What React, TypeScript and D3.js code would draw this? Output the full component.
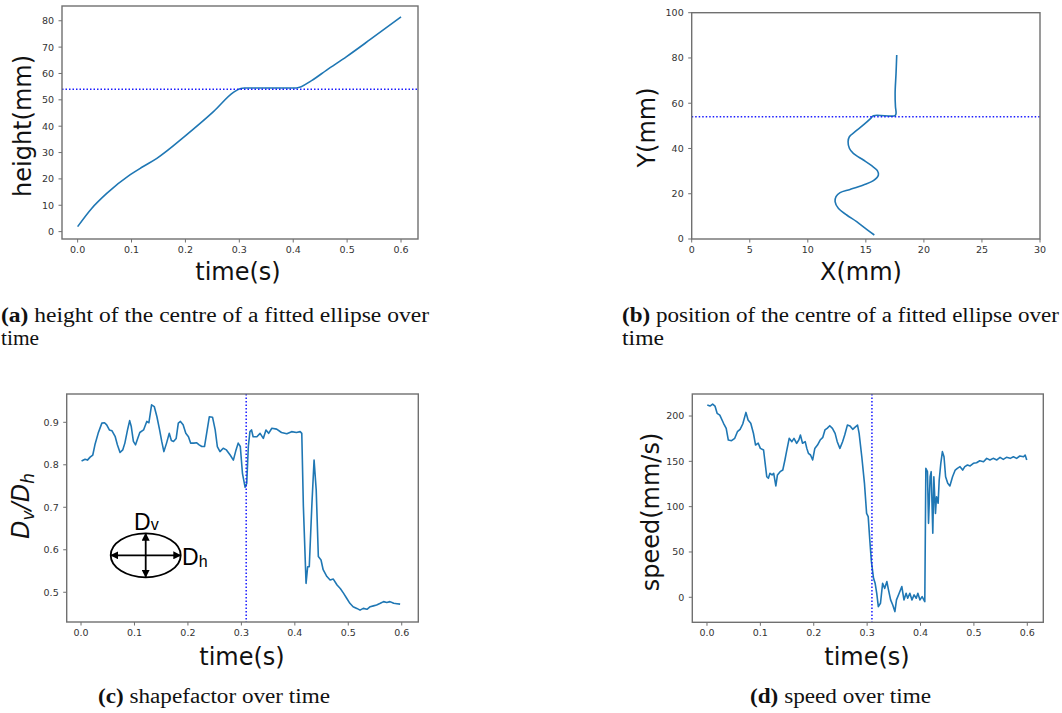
import React from 'react';
import * as d3 from 'd3';

// ---------- data ----------
const timeA = [0, 0.026, 0.054, 0.097, 0.12, 0.147, 0.202, 0.252, 0.289, 0.301, 0.31, 0.406, 0.434, 0.462, 0.499, 0.543, 0.6];
const heightA = [1.9, 8.8, 14.5, 21.5, 24.5, 27.8, 36.7, 45.5, 52.8, 54.2, 54.5, 54.5, 57.3, 61.3, 66.4, 72.9, 81.5];

const posX = [15.73, 15.07, 14.21, 13.35, 12.63, 12.35, 12.43, 12.78, 13.64, 14.79, 15.65, 16.08, 15.99, 15.5, 14.79, 13.92, 13.58, 13.47, 13.58, 14.07, 14.79, 15.42, 15.65, 17.51, 17.6, 17.55, 17.52, 17.6, 17.66];
const posY = [1.77, 4.27, 7.66, 10.6, 13.55, 16.5, 18.7, 20.5, 21.9, 23.9, 25.8, 28.3, 30.2, 32.4, 34.9, 37.8, 40.1, 43.0, 45.2, 47.4, 50.4, 53.3, 54.5, 54.5, 55.5, 58.5, 64.4, 73.2, 81.3];

const timeC = [0.001, 0.0075, 0.012, 0.017, 0.022, 0.026, 0.032, 0.039, 0.044, 0.048, 0.053, 0.058, 0.064, 0.068, 0.073, 0.078, 0.082, 0.087, 0.091, 0.094, 0.098, 0.102, 0.106, 0.11, 0.117, 0.123, 0.127, 0.132, 0.137, 0.142, 0.147, 0.151, 0.155, 0.16, 0.165, 0.169, 0.173, 0.178, 0.182, 0.186, 0.191, 0.196, 0.201, 0.205, 0.211, 0.216, 0.221, 0.226, 0.231, 0.235, 0.24, 0.246, 0.251, 0.255, 0.26, 0.266, 0.272, 0.279, 0.285, 0.29, 0.294, 0.298, 0.302, 0.307, 0.31, 0.313, 0.316, 0.319, 0.322, 0.329, 0.335, 0.341, 0.346, 0.351, 0.357, 0.366, 0.375, 0.385, 0.394, 0.403, 0.41, 0.413, 0.416, 0.421, 0.424, 0.427, 0.432, 0.436, 0.44, 0.444, 0.449, 0.453, 0.46, 0.466, 0.472, 0.479, 0.485, 0.491, 0.497, 0.503, 0.509, 0.516, 0.522, 0.528, 0.535, 0.541, 0.547, 0.553, 0.56, 0.566, 0.572, 0.578, 0.585, 0.591, 0.597];
const shapeC = [0.809, 0.813, 0.811, 0.818, 0.823, 0.847, 0.874, 0.898, 0.899, 0.894, 0.882, 0.88, 0.866, 0.847, 0.829, 0.835, 0.851, 0.882, 0.904, 0.89, 0.855, 0.847, 0.862, 0.876, 0.882, 0.902, 0.899, 0.941, 0.937, 0.913, 0.882, 0.855, 0.831, 0.851, 0.874, 0.857, 0.855, 0.862, 0.898, 0.902, 0.894, 0.874, 0.866, 0.851, 0.851, 0.852, 0.847, 0.843, 0.843, 0.874, 0.913, 0.912, 0.882, 0.843, 0.831, 0.839, 0.835, 0.823, 0.811, 0.835, 0.851, 0.843, 0.78, 0.747, 0.756, 0.843, 0.878, 0.882, 0.866, 0.866, 0.874, 0.862, 0.882, 0.874, 0.886, 0.884, 0.876, 0.873, 0.878, 0.876, 0.878, 0.874, 0.702, 0.521, 0.56, 0.56, 0.709, 0.811, 0.741, 0.584, 0.576, 0.553, 0.537, 0.529, 0.531, 0.517, 0.509, 0.498, 0.486, 0.474, 0.466, 0.462, 0.458, 0.462, 0.46, 0.466, 0.468, 0.47, 0.474, 0.478, 0.476, 0.478, 0.474, 0.473, 0.472];

const timeD = [0.0006, 0.0056, 0.0106, 0.015, 0.019, 0.024, 0.031, 0.036, 0.04, 0.046, 0.052, 0.057, 0.062, 0.067, 0.073, 0.077, 0.082, 0.087, 0.091, 0.096, 0.1, 0.106, 0.109, 0.112, 0.115, 0.118, 0.122, 0.125, 0.129, 0.132, 0.137, 0.142, 0.146, 0.149, 0.154, 0.159, 0.163, 0.168, 0.172, 0.175, 0.179, 0.184, 0.187, 0.19, 0.194, 0.198, 0.202, 0.207, 0.212, 0.217, 0.221, 0.225, 0.23, 0.235, 0.24, 0.244, 0.249, 0.254, 0.258, 0.263, 0.268, 0.273, 0.277, 0.282, 0.285, 0.29, 0.295, 0.299, 0.302, 0.305, 0.308, 0.312, 0.315, 0.318, 0.321, 0.325, 0.329, 0.333, 0.337, 0.34, 0.344, 0.348, 0.352, 0.355, 0.36, 0.365, 0.369, 0.373, 0.376, 0.38, 0.384, 0.388, 0.392, 0.395, 0.399, 0.403, 0.408, 0.41, 0.413, 0.415, 0.418, 0.42, 0.423, 0.425, 0.428, 0.43, 0.433, 0.435, 0.438, 0.441, 0.444, 0.447, 0.451, 0.455, 0.46, 0.465, 0.469, 0.474, 0.479, 0.483, 0.488, 0.493, 0.499, 0.505, 0.511, 0.518, 0.524, 0.53, 0.536, 0.543, 0.549, 0.555, 0.561, 0.568, 0.574, 0.58, 0.586, 0.593, 0.596, 0.599];
const speedD = [212.1, 211, 213.2, 211, 203, 201, 192, 186.4, 173.5, 172.8, 175.4, 182.7, 185.3, 191.2, 204, 195.6, 192, 181, 168, 170, 164.3, 162.5, 147.8, 133, 131.3, 136.8, 135, 136.8, 122.8, 135, 138.6, 140.4, 151.5, 160.7, 175.4, 171.7, 175.4, 169.9, 173.5, 179, 169.9, 171.7, 164.3, 158.8, 157, 151.5, 164.3, 168, 173.5, 176.5, 184.6, 186.4, 189.3, 186.4, 180.9, 171.7, 164.3, 171.7, 179, 190, 189, 185.3, 187.5, 190, 180.9, 155.1, 125.7, 92.6, 89, 63.2, 39.3, 21, 15.4, 4.4, -10.3, -6.6, 15.4, 9.9, 17.3, 8.1, -2.9, -8.5, -15.8, -2.9, 4.4, 11.8, -2.9, 4.4, -1.1, 4.4, -2.9, 2.6, -1.1, 4.4, -2.9, 0.7, -4.8, 142.3, 138.6, 81.6, 133, 138.6, 70.6, 133, 92.6, 111, 103.7, 129.4, 147.8, 160.7, 155.1, 133, 125.7, 122.8, 133, 140.4, 142.3, 144.1, 140.4, 144.1, 146, 144.9, 147.8, 148.5, 150.7, 149.6, 153.3, 151.5, 153.3, 151.5, 154.4, 152.2, 154.4, 153.3, 155.1, 153.3, 155.9, 155.1, 157, 151.5];

const ticksTime = [0, 0.1, 0.2, 0.3, 0.4, 0.5, 0.6];
const ticksHeight = [0, 10, 20, 30, 40, 50, 60, 70, 80];
const ticksPosX = [0, 5, 10, 15, 20, 25, 30];
const ticksPosY = [0, 20, 40, 60, 80, 100];
const ticksShape = [0.5, 0.6, 0.7, 0.8, 0.9];
const ticksSpeed = [0, 50, 100, 150, 200];

const refHeight = 54;
const refTime = 0.309;

const SANS = "'DejaVu Sans', sans-serif";
const SERIF = "'Liberation Serif', serif";
const LINE = '#1f77b4';
const SPINE = '#707070';

type PanelProps = {
  box: [number, number, number, number];
  xDomain: [number, number];
  yDomain: [number, number];
  xTicks: number[];
  yTicks: number[];
  xFmt: (v: number) => string;
  yFmt: (v: number) => string;
  xs: number[];
  ys: number[];
  curve?: d3.CurveFactory;
  refX?: number;
  refY?: number;
};

function Panel(p: PanelProps) {
  const [l, t, r, b] = p.box;
  const x = d3.scaleLinear().domain(p.xDomain).range([l, r]);
  const y = d3.scaleLinear().domain(p.yDomain).range([b, t]);
  const pts: [number, number][] = p.xs.map((v, i) => [v, p.ys[i]]);
  const line = d3
    .line<[number, number]>()
    .x((d) => x(d[0]))
    .y((d) => y(d[1]))
    .curve(p.curve || d3.curveLinear);
  return (
    <g>
      <path d={line(pts) || ''} fill="none" stroke={LINE} strokeWidth={1.6} strokeLinejoin="round" />
      {p.refY !== undefined && (
        <line x1={l} x2={r} y1={y(p.refY)} y2={y(p.refY)} stroke="#1a1aff" strokeWidth={1.5} strokeDasharray="1.5,2" />
      )}
      {p.refX !== undefined && (
        <line x1={x(p.refX)} x2={x(p.refX)} y1={t} y2={b} stroke="#1a1aff" strokeWidth={1.5} strokeDasharray="1.5,2" />
      )}
      <rect x={l} y={t} width={r - l} height={b - t} fill="none" stroke={SPINE} strokeWidth={1.4} />
      {p.xTicks.map((v) => (
        <g key={'x' + v}>
          <line x1={x(v)} x2={x(v)} y1={b} y2={b + 3.5} stroke={SPINE} strokeWidth={1} />
          <text x={x(v)} y={b + 14} textAnchor="middle" fontSize={9.5} fontFamily={SANS} fill="#333">
            {p.xFmt(v)}
          </text>
        </g>
      ))}
      {p.yTicks.map((v) => (
        <g key={'y' + v}>
          <line x1={l - 3.5} x2={l} y1={y(v)} y2={y(v)} stroke={SPINE} strokeWidth={1} />
          <text x={l - 8} y={y(v) + 3.4} textAnchor="end" fontSize={9.5} fontFamily={SANS} fill="#333">
            {p.yFmt(v)}
          </text>
        </g>
      ))}
    </g>
  );
}

const f1 = d3.format('.1f');
const f0 = d3.format('d');

function AxisLabel({ x, y, rot, children }: { x: number; y: number; rot?: boolean; children: React.ReactNode }) {
  return (
    <text
      transform={rot ? `translate(${x},${y}) rotate(-90)` : `translate(${x},${y})`}
      textAnchor="middle"
      fontSize={24}
      fontFamily={SANS}
      fill="#111"
    >
      {children}
    </text>
  );
}

export default function App() {
  return (
    <svg
      width={1062}
      height={713}
      style={{ position: 'absolute', left: 0, top: 0, background: '#fff' }}
      overflow="hidden"
    >
      <defs>
        <marker id="ah" viewBox="0 0 10 10" refX="9" refY="5" markerWidth="8" markerHeight="8" markerUnits="userSpaceOnUse" orient="auto-start-reverse">
          <path d="M0,0 L10,5 L0,10 z" fill="#000" />
        </marker>
      </defs>
      <rect x={0} y={0} width={1062} height={713} fill="#fff" />

      {/* (a) */}
      <Panel
        box={[62, 6, 418, 239]}
        xDomain={[-0.029, 0.6315]}
        yDomain={[-2.8, 85.6]}
        xTicks={ticksTime}
        yTicks={ticksHeight}
        xFmt={f1}
        yFmt={f0}
        xs={timeA}
        ys={heightA}
        curve={d3.curveMonotoneX}
        refY={refHeight}
      />
      <AxisLabel x={31} y={126} rot>height(mm)</AxisLabel>
      <AxisLabel x={238} y={280}>time(s)</AxisLabel>

      {/* (b) */}
      <Panel
        box={[691.7, 12.7, 1040, 239]}
        xDomain={[0, 30]}
        yDomain={[0, 100]}
        xTicks={ticksPosX}
        yTicks={ticksPosY}
        xFmt={f0}
        yFmt={f0}
        xs={posX}
        ys={posY}
        curve={d3.curveCatmullRom.alpha(0.5)}
        refY={refHeight}
      />
      <AxisLabel x={654.5} y={127.5} rot>Y(mm)</AxisLabel>
      <AxisLabel x={861} y={280}>X(mm)</AxisLabel>

      {/* (c) */}
      <Panel
        box={[66.7, 394, 418.3, 622]}
        xDomain={[-0.0268, 0.631]}
        yDomain={[0.43, 0.9666]}
        xTicks={ticksTime}
        yTicks={ticksShape}
        xFmt={f1}
        yFmt={f1}
        xs={timeC}
        ys={shapeC}
        refX={refTime}
      />
      <text transform="translate(29,506) rotate(-90)" textAnchor="middle" fontSize={24} fontFamily={SANS} fontStyle="italic" fill="#111">
        D<tspan fontSize={17} dy={5}>v</tspan>
        <tspan dy={-5}>/D</tspan>
        <tspan fontSize={17} dy={5}>h</tspan>
      </text>
      <AxisLabel x={242} y={665}>time(s)</AxisLabel>

      {/* inset ellipse */}
      <g>
        <ellipse cx={145.7} cy={555.3} rx={35} ry={22} fill="none" stroke="#000" strokeWidth={1.8} />
        <line x1={111} x2={180.5} y1={555.3} y2={555.3} stroke="#000" strokeWidth={1.8} markerStart="url(#ah)" markerEnd="url(#ah)" />
        <line x1={145.7} x2={145.7} y1={533.5} y2={577} stroke="#000" strokeWidth={1.8} markerStart="url(#ah)" markerEnd="url(#ah)" />
        <text x={134} y={530} fontFamily="'Liberation Sans', Arial, sans-serif" fontSize={23} fill="#000">
          D<tspan fontSize={16}>v</tspan>
        </text>
        <text x={182} y={565} fontFamily="'Liberation Sans', Arial, sans-serif" fontSize={23} fill="#000">
          D<tspan fontSize={16} dy={2}>h</tspan>
        </text>
      </g>

      {/* (d) */}
      <Panel
        box={[692.3, 394, 1043.3, 622.3]}
        xDomain={[-0.0275, 0.63]}
        yDomain={[-27.6, 224.3]}
        xTicks={ticksTime}
        yTicks={ticksSpeed}
        xFmt={f1}
        yFmt={f0}
        xs={timeD}
        ys={speedD}
        refX={refTime}
      />
      <AxisLabel x={659} y={512} rot>speed(mm/s)</AxisLabel>
      <AxisLabel x={867} y={665}>time(s)</AxisLabel>

      {/* captions */}
      <g fontFamily={SERIF} fontSize={20} fill="#111">
        <text x={1} y={322} textLength={428} lengthAdjust="spacingAndGlyphs">
          <tspan fontWeight="bold">(a)</tspan> height of the centre of a fitted ellipse over
        </text>
        <text x={1} y={345} textLength={38} lengthAdjust="spacingAndGlyphs">time</text>
        <text x={622} y={322} textLength={437} lengthAdjust="spacingAndGlyphs">
          <tspan fontWeight="bold">(b)</tspan> position of the centre of a fitted ellipse over
        </text>
        <text x={622} y={345} textLength={42} lengthAdjust="spacingAndGlyphs">time</text>
        <text x={98} y={703} textLength={232} lengthAdjust="spacingAndGlyphs">
          <tspan fontWeight="bold">(c)</tspan> shapefactor over time
        </text>
        <text x={750} y={703} textLength={181} lengthAdjust="spacingAndGlyphs">
          <tspan fontWeight="bold">(d)</tspan> speed over time
        </text>
      </g>
    </svg>
  );
}
